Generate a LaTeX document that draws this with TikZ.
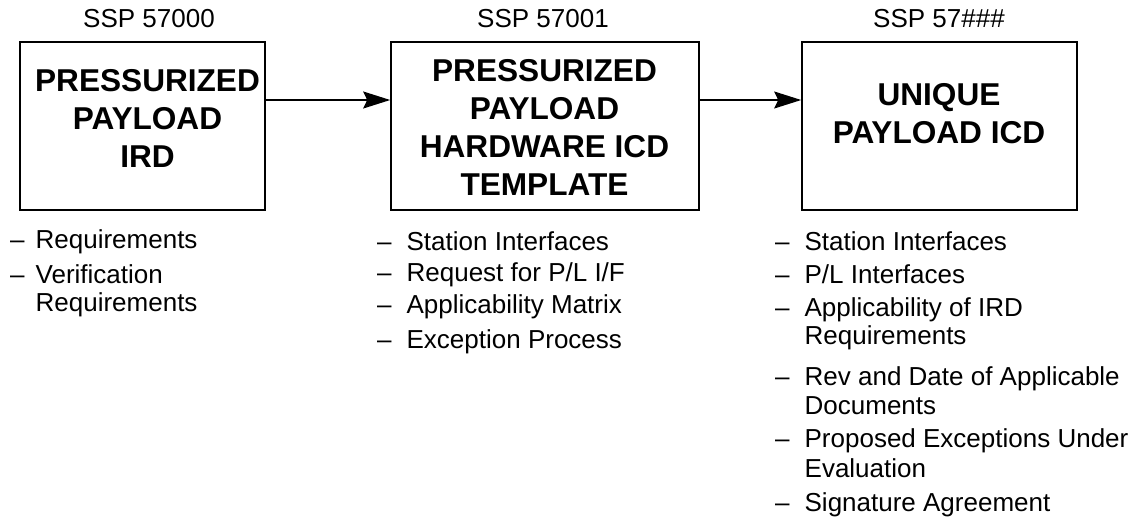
\documentclass[tikz,border=0pt]{standalone}
\usepackage{fontspec}
\setmainfont{Liberation Sans}
\usetikzlibrary{arrows.meta}

\begin{document}
\begin{tikzpicture}[x=1pt,y=-1pt,
  docbox/.style={draw,line width=1.6pt,minimum height=168pt,inner sep=0pt},
  doctitle/.style={align=center,inner sep=0pt,
                   font=\fontsize{31.6}{38}\selectfont\bfseries},
  docnum/.style={inner sep=0pt,font=\fontsize{26}{28}\selectfont},
  itemlist/.style={anchor=base west,inner sep=0pt,
                   font=\fontsize{26}{28.5}\selectfont},
  flow/.style={line width=1.4pt,-{Stealth[length=27pt,width=17pt,inset=4pt]}},
]
\useasboundingbox (0,0) rectangle (1140,525);

% the three documents
\node[docbox,minimum width=245pt] (ird)  at (142.5,126) {};
\node[docbox,minimum width=308pt] (tmpl) at (545,126)   {};
\node[docbox,minimum width=275pt] (uicd) at (939.5,126) {};

\node[doctitle] (irdtitle)  at (147.5,118) {PRESSURIZED\\PAYLOAD\\IRD};
\node[doctitle] (tmpltitle) at (544.5,127.5) {PRESSURIZED\\PAYLOAD\\HARDWARE ICD\\TEMPLATE};
\node[doctitle] (uicdtitle) at (939,114) {UNIQUE\\PAYLOAD ICD};

\node[docnum] (irdnum)  at (149,19) {SSP 57000};
\node[docnum] (tmplnum) at (543,19) {SSP 57001};
\node[docnum] (uicdnum) at (939,19) {SSP 57\#\#\#};

\draw[flow] ([yshift=26pt]ird.east)  -- ([yshift=26pt]tmpl.west);
\draw[flow] ([yshift=26pt]tmpl.east) -- ([yshift=26pt]uicd.west);

% what each one holds
\node[itemlist] (irdlist) at (10,248) {\begin{tabular}[t]{@{}l@{\hspace{11pt}}l@{}}
  -- & Requirements\\[6.5pt]
  -- & Verification\\
     & Requirements
\end{tabular}};

\node[itemlist] (tmpllist) at (377,250) {\begin{tabular}[t]{@{}l@{\hspace{15pt}}l@{}}
  -- & Station Interfaces\\[2.5pt]
  -- & Request for P/L I/F\\[3.5pt]
  -- & Applicability Matrix\\[6.5pt]
  -- & Exception Process
\end{tabular}};

\node[itemlist] (uicdlist) at (775,250) {\begin{tabular}[t]{@{}l@{\hspace{15pt}}l@{}}
  -- & Station Interfaces\\[4.5pt]
  -- & P/L Interfaces\\[4.5pt]
  -- & Applicability of IRD\\
     & Requirements\\[12.5pt]
  -- & Rev and Date of Applicable\\
     & Documents\\[4.5pt]
  -- & Proposed Exceptions Under\\[1.5pt]
     & Evaluation\\[5.5pt]
  -- & Signature Agreement
\end{tabular}};
\end{tikzpicture}
\end{document}
